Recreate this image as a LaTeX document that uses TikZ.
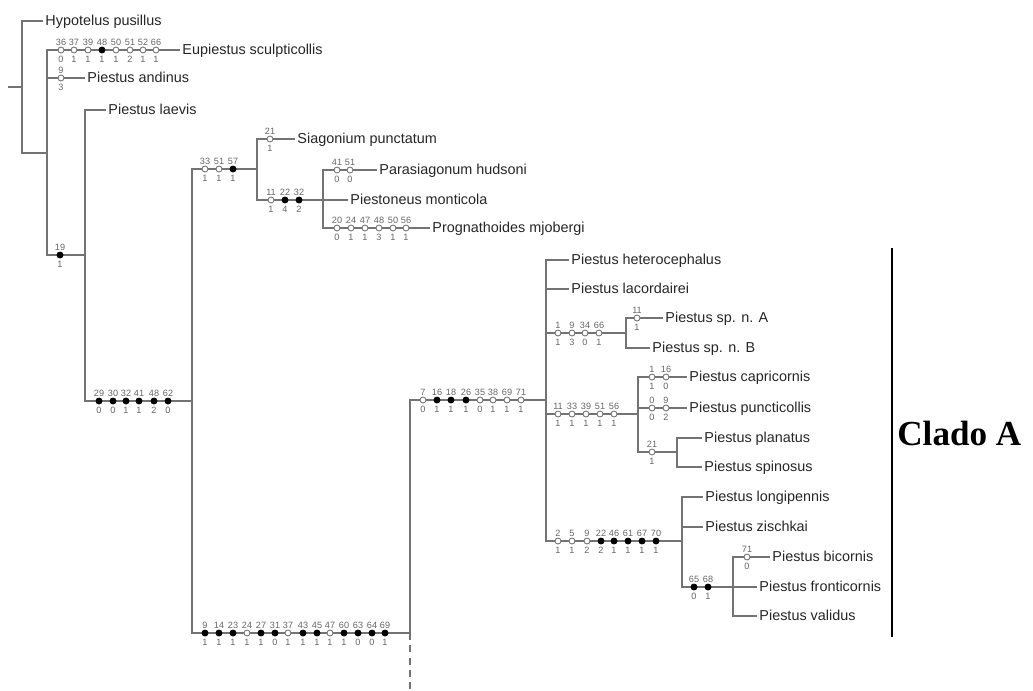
\documentclass[tikz,border=0pt]{standalone}
\usepackage{fontspec}
\setmainfont{Liberation Sans}
\newfontfamily\cladofont{Liberation Serif}
\usepackage{xcolor}

\begin{document}
\begin{tikzpicture}[
    x=0.02cm, y=-0.02cm,
    % Styles
    branch/.style={draw=black!55, line width=0.6pt},
    taxon/.style={anchor=west, inner sep=1.2pt, text height=6pt, text depth=1.2pt, font=\fontsize{8.2}{9}\selectfont, text=black!85},
    num/.style={font=\fontsize{5.2}{5.2}\selectfont, text=black!60, inner sep=0.4pt},
    numb/.style={num, yshift=-0.9pt},
    hom/.style={circle, draw=black!55, fill=white, line width=0.5pt, inner sep=0pt, minimum size=3.4pt, label distance=1.9pt},
    apo/.style={hom, draw=black, fill=black},
    cladobar/.style={draw=black, line width=1.2pt},
    cladolabel/.style={anchor=west, inner sep=0pt, font=\cladofont\bfseries\fontsize{20}{22}\selectfont},
]
\useasboundingbox (0,0) rectangle (1033,690);

% ===== INTERNAL NODES =====
\coordinate (base) at (8,87);
\coordinate (r) at (22,87);
\coordinate (a) at (47,153);
\coordinate (b) at (85,255);
\coordinate (c) at (192,401);
\coordinate (d) at (257,169);
\coordinate (f) at (323,200);
\coordinate (e) at (410,633);
\coordinate (cut) at (410,690);
\coordinate (g) at (546,400);
\coordinate (h) at (626,333);
\coordinate (i) at (638,414);
\coordinate (k) at (677,452);
\coordinate (j) at (682,541);
\coordinate (l) at (733,587);

% ===== TAXA =====
\node[taxon] (hyp) at (43,21) {Hypotelus pusillus};
\node[taxon] (eup) at (180,50) {Eupiestus sculpticollis};
\node[taxon] (and) at (85,78) {Piestus andinus};
\node[taxon] (lae) at (106,110) {Piestus laevis};
\node[taxon] (sia) at (295,139) {Siagonium punctatum};
\node[taxon] (par) at (377,170) {Parasiagonum hudsoni};
\node[taxon] (mon) at (348,200) {Piestoneus monticola};
\node[taxon] (pro) at (430,228) {Prognathoides mjobergi};
\node[taxon] (het) at (569,260) {Piestus heterocephalus};
\node[taxon] (lac) at (569,289) {Piestus lacordairei};
\node[taxon] (spa) at (663,318) {Piestus sp. n. A};
\node[taxon] (spb) at (650,348) {Piestus sp. n. B};
\node[taxon] (cap) at (687,377) {Piestus capricornis};
\node[taxon] (pun) at (687,408) {Piestus puncticollis};
\node[taxon] (pla) at (702,438) {Piestus planatus};
\node[taxon] (spi) at (702,467) {Piestus spinosus};
\node[taxon] (lon) at (703,497) {Piestus longipennis};
\node[taxon] (zis) at (703,527) {Piestus zischkai};
\node[taxon] (bic) at (770,557) {Piestus bicornis};
\node[taxon] (fro) at (757,587) {Piestus fronticornis};
\node[taxon] (val) at (757,616) {Piestus validus};

% ===== BRANCHES =====
\draw[branch] (base) -- (r);
\draw[branch] (r) |- (hyp.west);
\draw[branch] (r) |- (a);
\draw[branch] (a) |- (eup.west);
\draw[branch] (a) |- (and.west);
\draw[branch] (a) |- (b);
\draw[branch] (b) |- (lae.west);
\draw[branch] (b) |- (c);
\draw[branch] (c) |- (d);
\draw[branch] (c) |- (e);
\draw[branch] (d) |- (sia.west);
\draw[branch] (d) |- (f);
\draw[branch] (f) |- (par.west);
\draw[branch] (f) -- (mon.west);
\draw[branch] (f) |- (pro.west);
\draw[branch] (e) |- (g);
\draw[branch, dash pattern=on 4pt off 3pt] (e) -- (cut);
\draw[branch] (g) |- (het.west);
\draw[branch] (g) |- (lac.west);
\draw[branch] (g) |- (h);
\draw[branch] (g) |- (i);
\draw[branch] (g) |- (j);
\draw[branch] (h) |- (spa.west);
\draw[branch] (h) |- (spb.west);
\draw[branch] (i) |- (cap.west);
\draw[branch] (i) |- (pun.west);
\draw[branch] (i) |- (k);
\draw[branch] (k) |- (pla.west);
\draw[branch] (k) |- (spi.west);
\draw[branch] (j) |- (lon.west);
\draw[branch] (j) |- (zis.west);
\draw[branch] (j) |- (l);
\draw[branch] (l) |- (bic.west);
\draw[branch] (l) -- (fro.west);
\draw[branch] (l) |- (val.west);

% ===== CHARACTER STATES =====
\foreach \x/\t/\b/\s in {61/36/0/hom, 74/37/1/hom, 88/39/1/hom, 102/48/1/apo, 116/50/1/hom, 130/51/2/hom, 143/52/1/hom, 156/66/1/hom}
    \node[\s, label={[num]above:\t}, label={[numb]below:\b}] (eup\t) at (\x,50) {};
\node[hom, label={[num]above:9}, label={[numb]below:3}] (and9) at (61,78) {};
\node[apo, label={[num]above:19}, label={[numb]below:1}] (b19) at (60,255) {};
\foreach \x/\t/\b in {99/29/0, 113/30/0, 126/32/1, 139/41/1, 154/48/2, 168/62/0}
    \node[apo, label={[num]above:\t}, label={[numb]below:\b}] (c\t) at (\x,401) {};
\foreach \x/\t/\b/\s in {205/33/1/hom, 219/51/1/hom, 233/57/1/apo}
    \node[\s, label={[num]above:\t}, label={[numb]below:\b}] (d\t) at (\x,169) {};
\node[hom, label={[num]above:21}, label={[numb]below:1}] (sia21) at (270,139) {};
\foreach \x/\t/\b/\s in {271/11/1/hom, 285/22/4/apo, 299/32/2/apo}
    \node[\s, label={[num]above:\t}, label={[numb]below:\b}] (f\t) at (\x,200) {};
\foreach \x/\t/\b in {337/41/0, 350/51/0}
    \node[hom, label={[num]above:\t}, label={[numb]below:\b}] (par\t) at (\x,170) {};
\foreach \x/\t/\b in {337/20/0, 351/24/1, 365/47/1, 379/48/3, 393/50/1, 406/56/1}
    \node[hom, label={[num]above:\t}, label={[numb]below:\b}] (pro\t) at (\x,228) {};
\foreach \x/\t/\b/\s in {205/9/1/apo, 219/14/1/apo, 233/23/1/apo, 247/24/1/hom, 261/27/1/apo, 275/31/0/apo, 288/37/1/hom, 303/43/1/apo, 317/45/1/apo, 330/47/1/hom, 344/60/1/apo, 358/63/0/apo, 372/64/0/apo, 385/69/1/apo}
    \node[\s, label={[num]above:\t}, label={[numb]below:\b}] (e\t) at (\x,633) {};
\foreach \x/\t/\b/\s in {423/7/0/hom, 437/16/1/apo, 451/18/1/apo, 466/26/1/apo, 480/35/0/hom, 493/38/1/hom, 507/69/1/hom, 521/71/1/hom}
    \node[\s, label={[num]above:\t}, label={[numb]below:\b}] (g\t) at (\x,400) {};
\foreach \x/\t/\b in {558/1/1, 572/9/3, 585/34/0, 599/66/1}
    \node[hom, label={[num]above:\t}, label={[numb]below:\b}] (h\t) at (\x,333) {};
\node[hom, label={[num]above:11}, label={[numb]below:1}] (spa11) at (637,318) {};
\foreach \x/\t/\b in {558/11/1, 572/33/1, 586/39/1, 600/51/1, 614/56/1}
    \node[hom, label={[num]above:\t}, label={[numb]below:\b}] (i\t) at (\x,414) {};
\foreach \x/\t/\b in {652/1/1, 666/16/0}
    \node[hom, label={[num]above:\t}, label={[numb]below:\b}] (cap\t) at (\x,377) {};
\foreach \x/\t/\b in {652/0/0, 666/9/2}
    \node[hom, label={[num]above:\t}, label={[numb]below:\b}] (pun\t) at (\x,408) {};
\node[hom, label={[num]above:21}, label={[numb]below:1}] (k21) at (652,452) {};
\foreach \x/\t/\b/\s in {558/2/1/hom, 572/5/1/hom, 587/9/2/hom, 601/22/2/apo, 614/46/1/apo, 628/61/1/apo, 642/67/1/apo, 656/70/1/apo}
    \node[\s, label={[num]above:\t}, label={[numb]below:\b}] (j\t) at (\x,541) {};
\foreach \x/\t/\b in {694/65/0, 708/68/1}
    \node[apo, label={[num]above:\t}, label={[numb]below:\b}] (l\t) at (\x,587) {};
\node[hom, label={[num]above:71}, label={[numb]below:0}] (bic71) at (747,557) {};

% ===== CLADE A =====
\coordinate (cladotop) at (892,248);
\coordinate (cladobot) at (892,637);
\draw[cladobar] (cladotop) -- (cladobot);
\node[cladolabel] (clado) at (897,433) {Clado A};

\end{tikzpicture}
\end{document}
